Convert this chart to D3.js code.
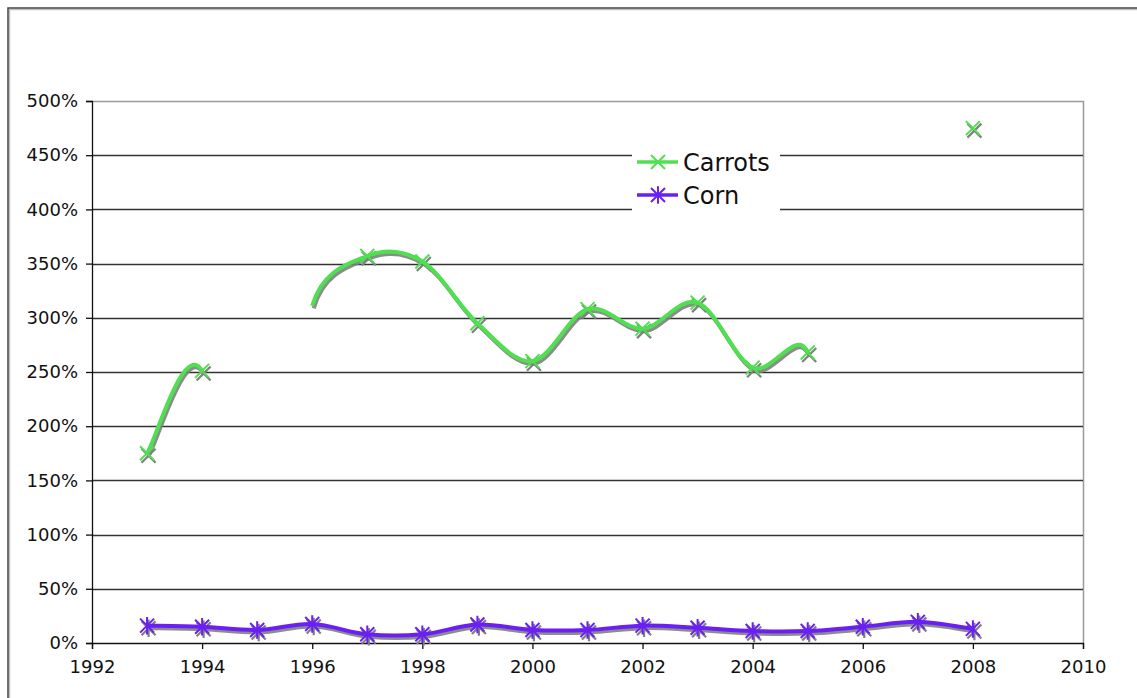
<!DOCTYPE html>
<html>
<head>
<meta charset="utf-8">
<script src="https://cdn.jsdelivr.net/npm/d3@7"></script>
<style>
  body { margin: 0; background: #fff; }
  text { font-family: "DejaVu Sans", Verdana, sans-serif; fill: #111; }
</style>
</head>
<body>
<script>
// Data (percent values, null = gap)
let years = [1993, 1994, 1995, 1996, 1997, 1998, 1999, 2000, 2001, 2002, 2003, 2004, 2005, 2006, 2007, 2008];
let carrots = [175, 251, null, 311, 357, 352, 295, 260, 308, 290, 314, 254, 268, null, null, 475];
let corn = [16, 15, 12, 17.5, 8, 8, 17, 12, 12, 16, 14, 11, 11, 15, 19.5, 13];
let carrotsNoMarker = [1996];
let xTicks = [1992, 1994, 1996, 1998, 2000, 2002, 2004, 2006, 2008, 2010];
let yTicks = [0, 50, 100, 150, 200, 250, 300, 350, 400, 450, 500];
let seriesNames = ["Carrots", "Corn"];
let seriesColors = ["#4fe04f", "#6a1ff5"];

let svgWidth = 1137;
let svgHeight = 698;

let margin = { top: 101, right: 54, bottom: 55, left: 92 };
let chartWidth = svgWidth - margin.left - margin.right;
let chartHeight = svgHeight - margin.top - margin.bottom;

let svg = d3.select("body")
  .append("svg")
  .attr("width", svgWidth)
  .attr("height", svgHeight);

// outer chart frame (runs off the window on right/bottom)
svg.append("rect")
  .attr("x", 9.5).attr("y", 9.5)
  .attr("width", svgWidth + 20).attr("height", svgHeight + 20)
  .attr("fill", "none").attr("stroke", "#c0c0c0").attr("stroke-width", 1.5);
svg.append("rect")
  .attr("x", 8).attr("y", 8)
  .attr("width", svgWidth + 20).attr("height", svgHeight + 20)
  .attr("fill", "none").attr("stroke", "#444").attr("stroke-width", 1.5);

let chartGroup = svg.append("g")
  .attr("transform", `translate(${margin.left}, ${margin.top})`);

let xScale = d3.scaleLinear()
  .domain([1992, 2010])
  .range([0, chartWidth]);

let yScale = d3.scaleLinear()
  .domain([0, 500])
  .range([chartHeight, 0]);

// plot area border (top/right gray)
chartGroup.append("path")
  .attr("d", `M0,0.5H${chartWidth + 0.5}V${chartHeight}`)
  .attr("fill", "none").attr("stroke", "#9a9a9a").attr("stroke-width", 1.5);

// gridlines
chartGroup.append("g")
  .selectAll("line")
  .data(yTicks.filter(d => d > 0 && d < 500))
  .join("line")
  .attr("x1", 0).attr("x2", chartWidth)
  .attr("y1", d => Math.round(yScale(d)) + 0.5)
  .attr("y2", d => Math.round(yScale(d)) + 0.5)
  .attr("stroke", "#333").attr("stroke-width", 1.3);

let leftAxis = d3.axisLeft(yScale)
  .tickValues(yTicks)
  .tickSize(6)
  .tickPadding(8)
  .tickFormat(d => d + "%");

let bottomAxis = d3.axisBottom(xScale)
  .tickValues(xTicks)
  .tickSize(6)
  .tickPadding(11)
  .tickFormat(d3.format("d"));

let yAxisG = chartGroup.append("g")
  .classed("axis", true)
  .call(leftAxis);

let xAxisG = chartGroup.append("g")
  .classed("axis", true)
  .attr("transform", `translate(0, ${chartHeight})`)
  .call(bottomAxis);

[yAxisG, xAxisG].forEach(g => {
  g.attr("font-size", null);
  g.select(".domain").attr("stroke", "#111").attr("stroke-width", 1.3);
  g.selectAll(".tick line").attr("stroke", "#111").attr("stroke-width", 1.3);
  g.selectAll(".tick text")
    .attr("fill", "#111")
    .style("font-family", "'DejaVu Sans', Verdana, sans-serif")
    .style("font-size", "18px");
});

// Smoothed line like the spreadsheet's: bezier with 1/6 tangents, each
// control arm kept within half of its segment; a gap counts as a zero
// value for the tangent but is not drawn.
function smoothPath(values) {
  let pts = years.map((yr, i) => [xScale(yr), yScale(values[i] === null ? 0 : values[i])]);
  let dist = (a, b) => Math.hypot(b[0] - a[0], b[1] - a[1]);
  function arm(prev, cur, next, seg) {
    let tx = (next[0] - prev[0]) / 6, ty = (next[1] - prev[1]) / 6;
    let len = Math.hypot(tx, ty);
    let k = len > seg / 2 ? (seg / 2) / len : 1;
    return [tx * k, ty * k];
  }
  let p = d3.path();
  let drawing = false;
  for (let i = 0; i < years.length - 1; i++) {
    if (values[i] === null || values[i + 1] === null) { drawing = false; continue; }
    let p0 = pts[Math.max(i - 1, 0)], p1 = pts[i], p2 = pts[i + 1], p3 = pts[Math.min(i + 2, pts.length - 1)];
    let seg = dist(p1, p2);
    let a1 = arm(p0, p1, p2, seg);
    let a2 = arm(p1, p2, p3, seg);
    if (!drawing) { p.moveTo(p1[0], p1[1]); drawing = true; }
    p.bezierCurveTo(p1[0] + a1[0], p1[1] + a1[1], p2[0] - a2[0], p2[1] - a2[1], p2[0], p2[1]);
  }
  return p.toString();
}

function markerPath(kind, r) {
  let p = `M${-r},${-r}L${r},${r}M${-r},${r}L${r},${-r}`;
  if (kind === "star") p += `M0,${-r * 1.25}L0,${r * 1.25}`;
  return p;
}

let kinds = ["x", "star"];
let allSeries = [carrots, corn];

allSeries.forEach((values, s) => {
  let g = chartGroup.append("g");
  let markerData = years
    .map((yr, i) => ({ year: yr, value: values[i] }))
    .filter(d => d.value !== null && !(s === 0 && carrotsNoMarker.includes(d.year)));

  // shadow
  g.append("path")
    .attr("d", smoothPath(values))
    .attr("transform", "translate(1.5, 2.5)")
    .attr("fill", "none").attr("stroke", "#808080").attr("stroke-opacity", 0.9)
    .attr("stroke-width", 4);
  g.selectAll(".mshadow")
    .data(markerData)
    .join("path")
    .attr("class", "mshadow")
    .attr("d", markerPath(kinds[s], 7))
    .attr("transform", d => `translate(${xScale(d.year) + 1.5}, ${yScale(d.value) + 2.5})`)
    .attr("fill", "none").attr("stroke", "#808080").attr("stroke-width", 2.2);

  g.append("path")
    .attr("d", smoothPath(values))
    .attr("fill", "none").attr("stroke", seriesColors[s])
    .attr("stroke-width", 4);
  g.selectAll(".marker")
    .data(markerData)
    .join("path")
    .attr("class", "marker")
    .attr("d", markerPath(kinds[s], 7))
    .attr("transform", d => `translate(${xScale(d.year)}, ${yScale(d.value)})`)
    .attr("fill", "none").attr("stroke", seriesColors[s]).attr("stroke-width", 2);
});

// legend
let legend = svg.append("g").attr("transform", "translate(632, 148)");
legend.append("rect")
  .attr("width", 148).attr("height", 66)
  .attr("fill", "#fff");
seriesNames.forEach((name, i) => {
  let row = legend.append("g").attr("transform", `translate(0, ${14 + i * 33})`);
  row.append("line")
    .attr("x1", 5).attr("x2", 46)
    .attr("stroke", seriesColors[i]).attr("stroke-width", 3.5);
  row.append("path")
    .attr("d", markerPath(kinds[i], 7))
    .attr("transform", "translate(26, 0)")
    .attr("fill", "none").attr("stroke", seriesColors[i]).attr("stroke-width", 2);
  row.append("text")
    .attr("x", 51).attr("dy", "0.36em")
    .style("font-size", "24px")
    .text(name);
});
</script>
</body>
</html>
